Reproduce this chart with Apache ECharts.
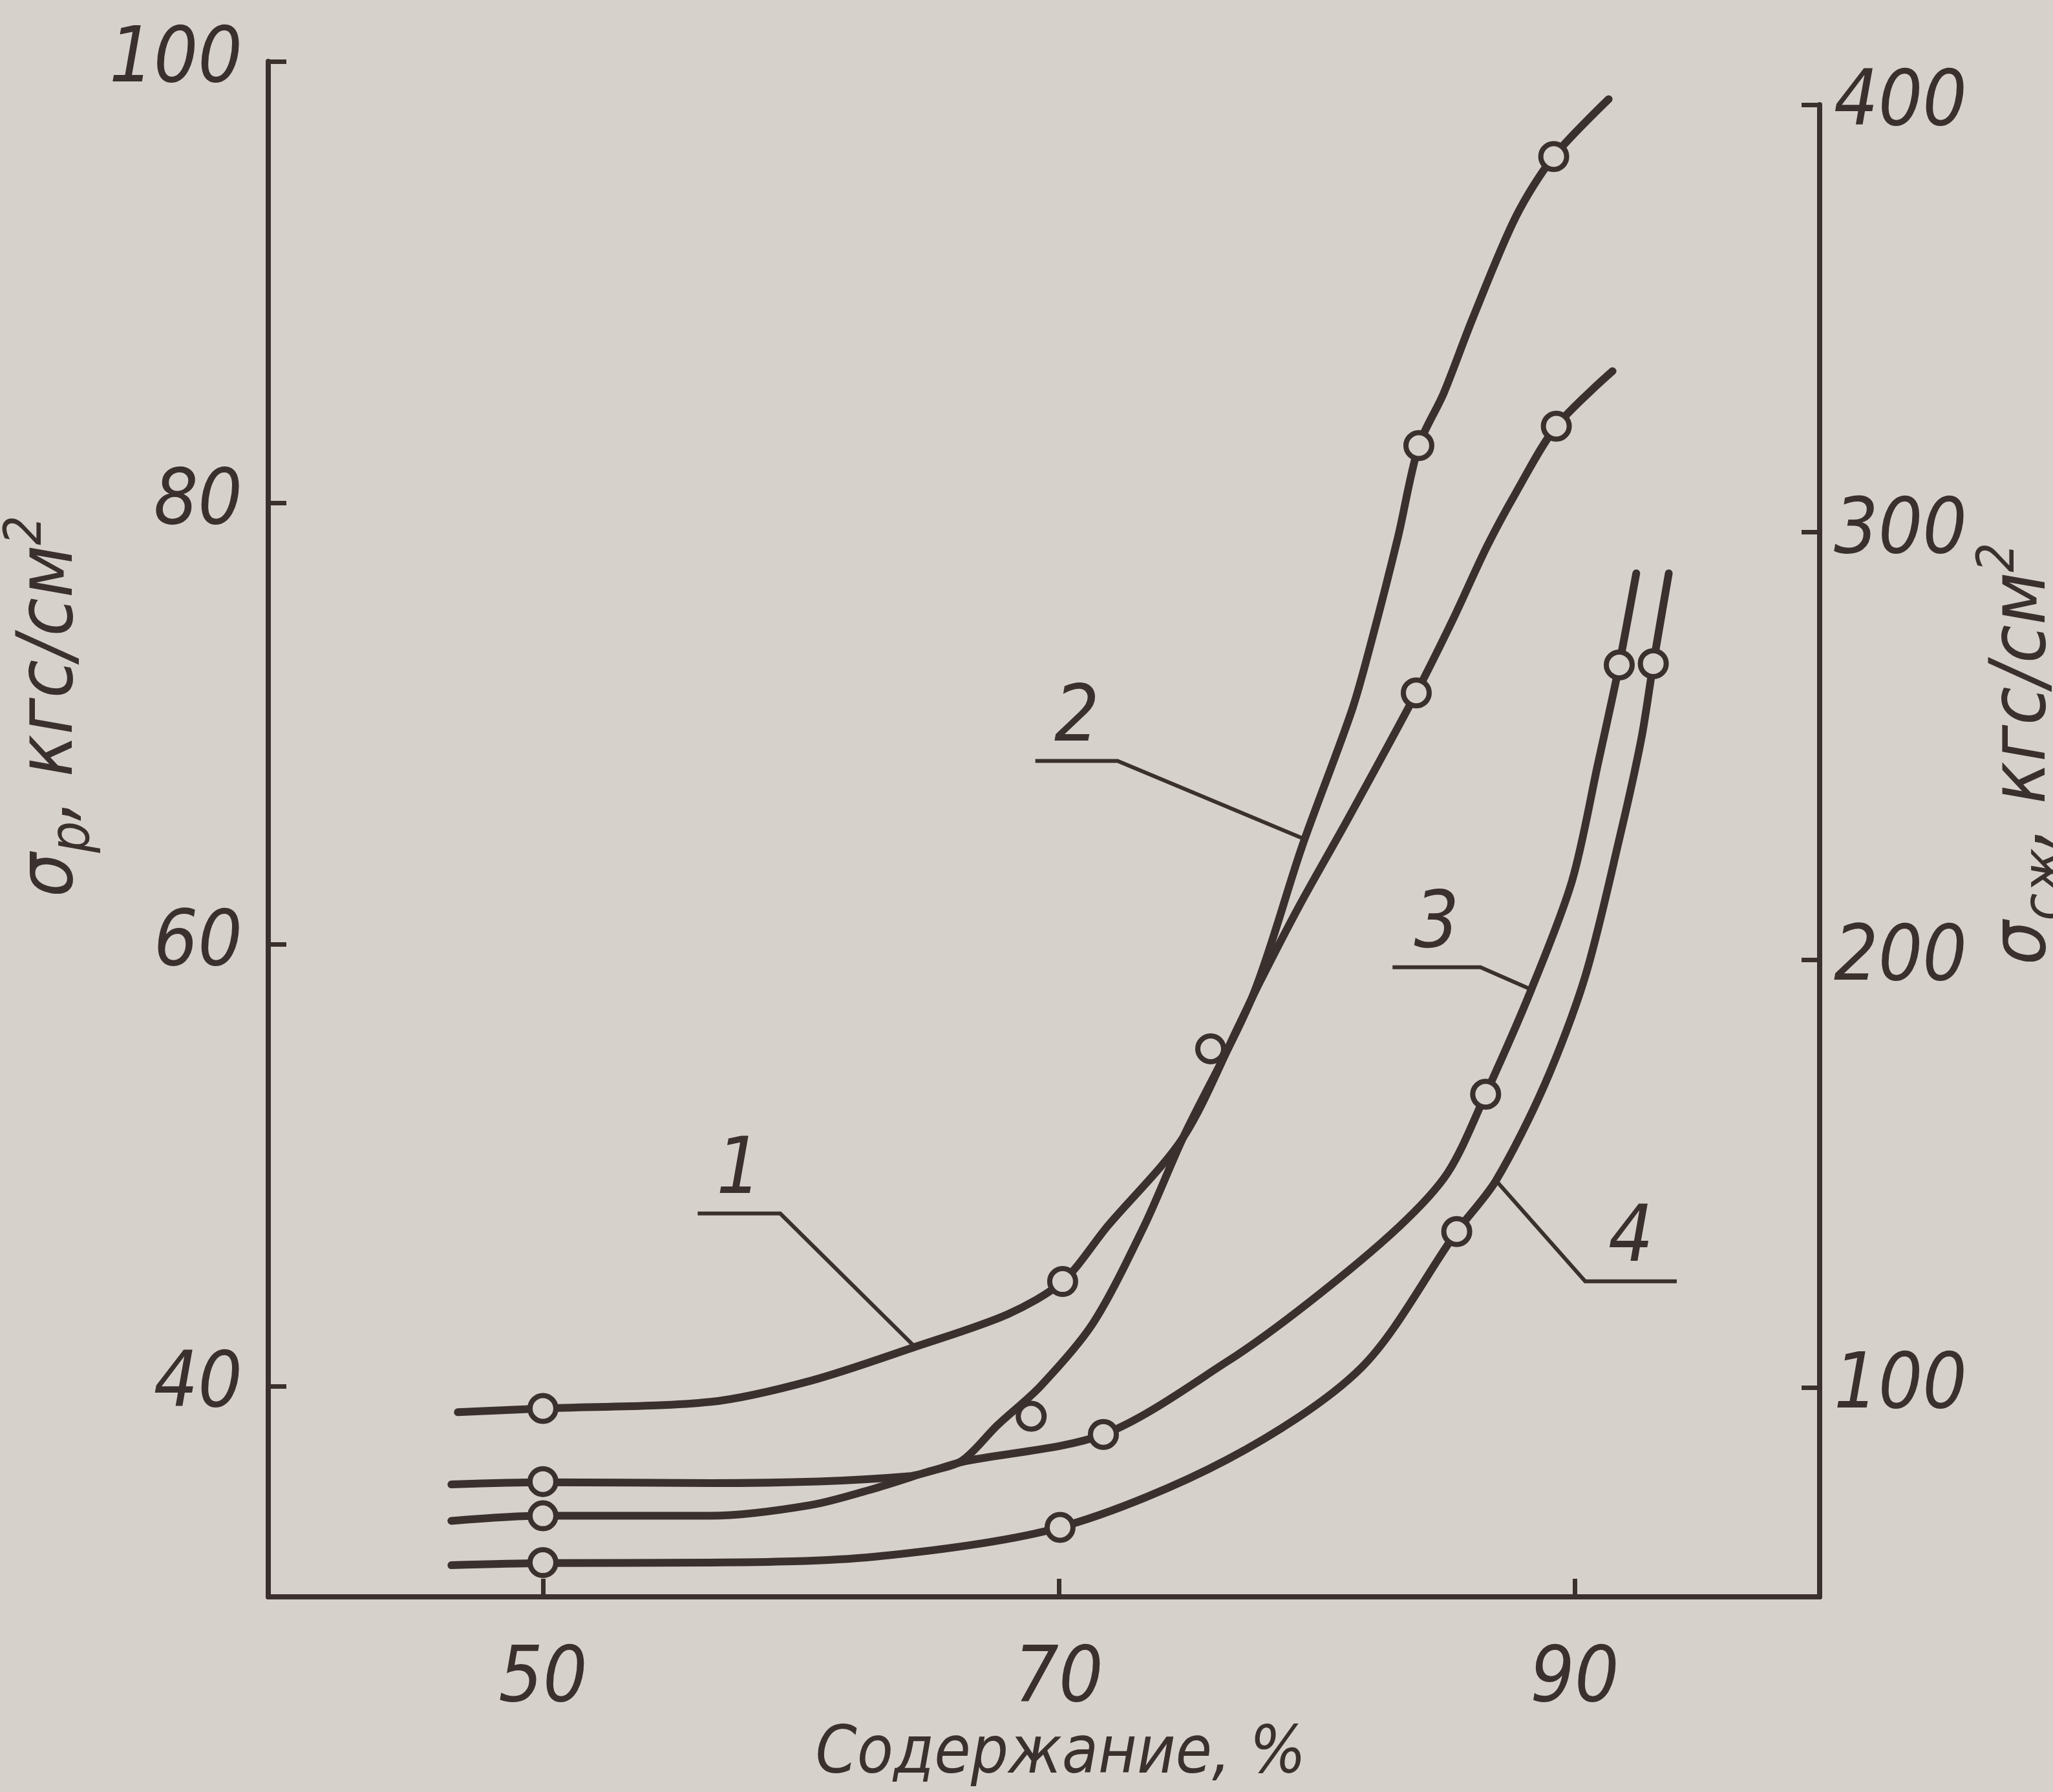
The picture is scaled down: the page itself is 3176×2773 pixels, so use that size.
<!DOCTYPE html>
<html>
<head>
<meta charset="utf-8">
<script src="https://cdn.jsdelivr.net/npm/echarts@6/dist/echarts.min.js"></script>
<style>
html,body{margin:0;padding:0;background:#d7d1cb;}
#chart{width:3176px;height:2773px;}
</style>
</head>
<body>
<div id="chart"></div>
<script>
// ---- axis ticks ----
const xTicks = [50, 70, 90];
const tensileTicks = [40, 60, 80, 100];
const compressTicks = [100, 200, 300, 400];

// ---- curve labels ----
const curveNames = ['1', '2', '3', '4'];

// ---- curve 1 (σр axis) ----
const curve1Line = [[46.70,38.82],[50.00,38.99],[56.50,39.29],[60.36,40.24],[64.42,41.78],[68.02,43.26],[70.15,44.74],[71.88,47.23],[74.82,51.26],[77.01,56.41],[77.77,58.25],[79.29,61.68],[81.22,65.71],[83.86,71.40],[85.28,74.72],[86.60,78.03],[87.72,80.46],[89.29,83.48],[91.47,85.97]];
const curve1Marks = [[50.00,38.99],[70.15,44.74],[75.89,55.28],[83.86,71.40],[89.29,83.48]];

// ---- curve 2 (σр axis) ----
const curve2Line = [[46.45,33.90],[50.00,34.13],[56.50,34.13],[60.36,34.61],[62.89,35.38],[64.82,36.09],[66.24,36.62],[67.61,38.22],[69.29,40.00],[71.32,42.84],[73.30,47.23],[74.82,51.26],[77.51,57.65],[79.44,64.47],[81.37,70.63],[82.13,73.77],[83.15,78.45],[83.96,82.60],[84.92,84.96],[86.04,88.34],[87.72,92.96],[89.19,95.69],[91.32,98.29]];
const curve2Marks = [[50.00,34.13],[68.93,38.64],[83.96,82.60],[89.19,95.69]];

// ---- curve 3 (σсж axis) ----
const curve3Line = [[46.45,77.3],[50.00,77.8],[56.50,77.6],[64.16,79.19],[66.24,82.55],[71.73,88.98],[76.55,106.12],[79.70,119.90],[83.15,137.34],[85.08,150.20],[86.55,168.56],[88.32,193.05],[89.90,218.46],[90.91,246.00],[91.52,262.84],[91.73,268.96],[92.39,290.39]];
const curve3Marks = [[50.00,77.96],[71.73,88.98],[86.55,168.56],[91.73,268.96]];

// ---- curve 4 (σсж axis) ----
const curve4Line = [[46.45,58.4],[50.00,58.9],[56.50,59.0],[62.89,60.4],[70.05,67.25],[76.55,83.17],[81.73,104.59],[85.43,136.43],[86.95,148.36],[88.83,170.71],[90.41,196.11],[91.78,229.48],[92.59,251.82],[93.05,269.27],[93.65,290.39]];
const curve4Marks = [[50.00,59.0],[70.05,67.25],[85.43,136.43],[93.05,269.27]];

// ---- leader lines (callouts) and label anchors ----
const leader1 = [[56.0,47.82],[59.2,47.82],[64.42,41.78]];
const leader2 = [[69.09,68.32],[72.28,68.32],[79.44,64.82]];
const leader3 = [[82.94,198.26],[86.35,198.26],[88.32,193.05]];
const leader4 = [[93.96,124.79],[90.41,124.79],[86.95,148.36]];
const label1At = [57.6,47.82];
const label2At = [70.7,68.32];
const label3At = [84.65,198.26];
const label4At = [92.18,124.79];

const INK = '#3a302d';
const PAPER = '#d7d1cb';
const NUMFONT = '"Liberation Sans Narrow","DejaVu Sans Condensed","DejaVu Sans",sans-serif';
const TXTFONT = '"DejaVu Sans Condensed","DejaVu Sans",sans-serif';

function curve(data, g) {
  return {type:'line', xAxisIndex:g, yAxisIndex:g, data:data, smooth:0.3,
    symbol:'none', showSymbol:false, lineStyle:{color:INK, width:12, cap:'round', join:'round'}, silent:true, z:2};
}
function marks(data, g) {
  return {type:'scatter', xAxisIndex:g, yAxisIndex:g, data:data, symbol:'circle', symbolSize:40,
    itemStyle:{color:PAPER, borderColor:INK, borderWidth:8, opacity:1}, silent:true, z:5};
}
function leader(data, g) {
  return {type:'line', xAxisIndex:g, yAxisIndex:g, data:data, smooth:false, symbol:'none', showSymbol:false,
    lineStyle:{color:INK, width:6, join:'miter'}, silent:true, z:3};
}
function tag(at, name, g) {
  return {type:'scatter', xAxisIndex:g, yAxisIndex:g, data:[{value:at, name:name}], symbol:'circle', symbolSize:1,
    itemStyle:{color:'rgba(0,0,0,0)', opacity:1}, silent:true, z:6,
    label:{show:true, formatter:'{b}', position:'top', distance:2, color:INK, fontSize:122,
      fontStyle:'italic', fontFamily:NUMFONT, opacity:1}};
}

const nameRich = {
  m:{fontSize:120, lineHeight:156, color:INK, fontStyle:'italic', fontFamily:TXTFONT},
  sub:{fontSize:86, lineHeight:90, verticalAlign:'bottom', color:INK, fontStyle:'italic', fontFamily:TXTFONT},
  sup:{fontSize:80, lineHeight:84, verticalAlign:'top', color:INK, fontStyle:'italic', fontFamily:TXTFONT}
};

const tickLabel = {color:INK, fontSize:120, fontStyle:'italic', fontFamily:NUMFONT};

const option = {
  animation:false,
  backgroundColor:PAPER,
  grid:[
    {left:415, right:361, top:95, bottom:302, outerBoundsMode:'none', containLabel:false},
    {left:415, right:361, top:162, bottom:302, outerBoundsMode:'none', containLabel:false}
  ],
  xAxis:[
    {gridIndex:0, type:'value', min:39.35, max:99.5,
      axisLine:{onZero:false, lineStyle:{color:INK, width:8}},
      axisTick:{inside:true, length:28, customValues:xTicks, lineStyle:{color:INK, width:7}},
      axisLabel:Object.assign({customValues:xTicks, margin:70}, tickLabel),
      splitLine:{show:false},
      name:'Содержание, %', nameLocation:'middle', nameGap:150,
      nameTextStyle:{color:INK, fontSize:102, fontStyle:'italic', fontFamily:TXTFONT, padding:[0,0,0,52]}},
    {gridIndex:1, type:'value', min:39.35, max:99.5, show:false, splitLine:{show:false}}
  ],
  yAxis:[
    {gridIndex:0, type:'value', position:'left', min:30.46, max:100,
      axisLine:{onZero:false, lineStyle:{color:INK, width:8}},
      axisTick:{inside:true, length:28, customValues:tensileTicks, lineStyle:{color:INK, width:7}},
      axisLabel:Object.assign({customValues:tensileTicks, margin:40}, tickLabel),
      splitLine:{show:false},
      name:'{m|σ}{sub|р}{m|, кгс/см}{sup|2}', nameLocation:'middle', nameRotate:90, nameGap:218,
      nameTextStyle:{padding:[0,0,0,380], rich:nameRich}},
    {gridIndex:1, type:'value', position:'right', min:51, max:400,
      axisLine:{onZero:false, lineStyle:{color:INK, width:8}},
      axisTick:{inside:true, length:28, customValues:compressTicks, lineStyle:{color:INK, width:7}},
      axisLabel:Object.assign({customValues:compressTicks, margin:22}, tickLabel),
      splitLine:{show:false},
      name:'{m|σ}{sub|сж}{m|, кгс/см}{sup|2}', nameLocation:'middle', nameRotate:90, nameGap:178,
      nameTextStyle:{padding:[0,0,0,300], rich:nameRich}}
  ],
  series:[
    curve(curve1Line,0), curve(curve2Line,0), curve(curve3Line,1), curve(curve4Line,1),
    leader(leader1,0), leader(leader2,0), leader(leader3,1), leader(leader4,1),
    marks(curve1Marks,0), marks(curve2Marks,0), marks(curve3Marks,1), marks(curve4Marks,1),
    tag(label1At, curveNames[0], 0), tag(label2At, curveNames[1], 0),
    tag(label3At, curveNames[2], 1), tag(label4At, curveNames[3], 1)
  ]
};
const chart = echarts.init(document.getElementById('chart'), null, {renderer:'canvas'});
chart.setOption(option);
</script>
</body>
</html>
